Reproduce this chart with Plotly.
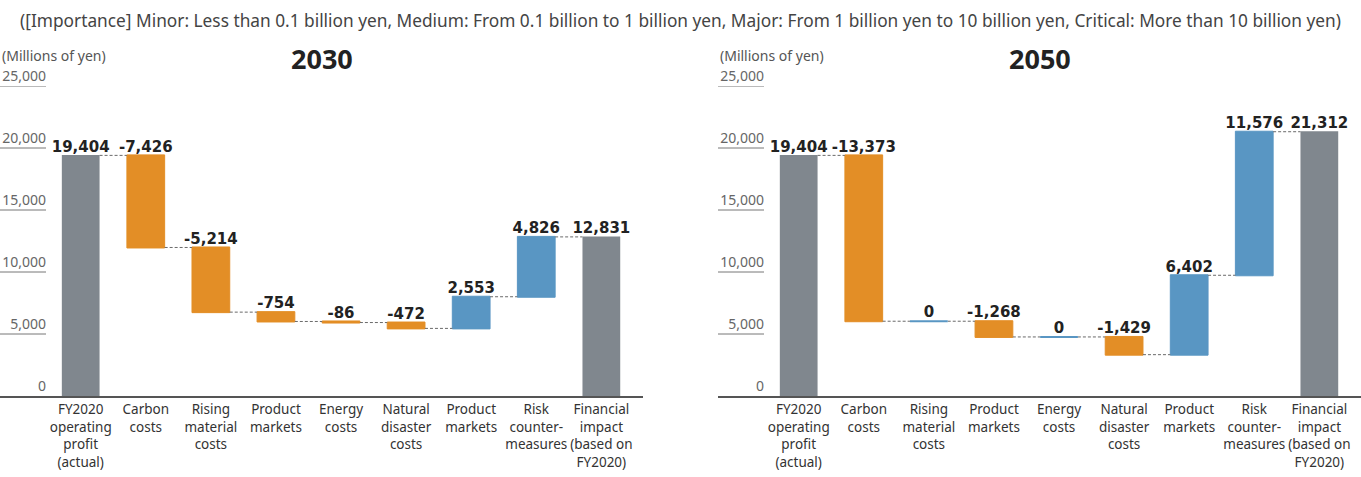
import numpy as np
import plotly.graph_objects as go

categories = ["FY2020<br>operating<br>profit<br>(actual)", "Carbon<br>costs", "Rising<br>material<br>costs",
              "Product<br>markets", "Energy<br>costs", "Natural<br>disaster<br>costs", "Product<br>markets",
              "Risk<br>counter-<br>measures", "Financial<br>impact<br>(based on<br>FY2020)"]
measures = ["absolute"] + ["relative"] * 7 + ["total"]
values_2030 = [19404, -7426, -5214, -754, -86, -472, 2553, 4826, 12831]
values_2050 = [19404, -13373, 0, -1268, 0, -1429, 6402, 11576, 21312]
y_ticks = [0, 5000, 10000, 15000, 20000, 25000]
y_tick_labels = ["0", "5,000", "10,000", "15,000", "20,000", "25,000"]
panel_titles = ["2030", "2050"]
note = ("([Importance] Minor: Less than 0.1 billion yen, Medium: From 0.1 billion to 1 billion yen, "
        "Major: From 1 billion yen to 10 billion yen, Critical: More than 10 billion yen)")
unit = "(Millions of yen)"

GREY = "#80878e"
ORANGE = "#e38e26"
BLUE = "#5996c3"
LABEL_FONT = "Noto Sans"
BAR_W = 0.58

def running_levels(vals, meas):
    """Return (bottom, top) of each bar."""
    bottoms, tops = [], []
    running = 0.0
    for v, m in zip(vals, meas):
        if m == "absolute":
            running = v
            bottoms.append(0); tops.append(v)
        elif m == "total":
            bottoms.append(0); tops.append(running)
        else:
            before = running
            running = running + v
            bottoms.append(min(before, running)); tops.append(max(before, running))
    return np.array(bottoms), np.array(tops)

def fmt(v):
    return f"{v:,}"

fig = go.Figure()
x_idx = list(range(len(categories)))
domains = [[0.0, 643 / 1361], [718 / 1361, 1.0]]
series = [values_2030, values_2050]
shapes = []

for k, vals in enumerate(series):
    xa = "x" if k == 0 else "x2"
    ya = "y" if k == 0 else "y2"
    fig.add_trace(go.Waterfall(
        x=x_idx, y=vals, measure=measures, xaxis=xa, yaxis=ya,
        width=BAR_W,
        increasing=dict(marker=dict(color=BLUE, line=dict(color=BLUE, width=1))),
        decreasing=dict(marker=dict(color=ORANGE, line=dict(color=ORANGE, width=1))),
        totals=dict(marker=dict(color=GREY, line=dict(color=GREY, width=0))),
        connector=dict(mode="between", line=dict(color="#6a6a6a", width=1, dash="3px,2px")),
        textinfo="none", hoverinfo="skip", showlegend=False,
    ))
    bottoms, tops = running_levels(vals, measures)
    # zero-valued changes are drawn as a thin blue line at the running level
    for i, (v, m) in enumerate(zip(vals, measures)):
        if m == "relative" and v == 0:
            shapes.append(dict(type="line", xref=xa, yref=ya, x0=i - BAR_W / 2, x1=i + BAR_W / 2,
                               y0=tops[i], y1=tops[i], line=dict(color=BLUE, width=2)))
    fig.add_trace(go.Scatter(
        x=x_idx, y=tops, mode="text", xaxis=xa, yaxis=ya,
        text=[fmt(v) for v in vals], textposition="top center",
        textfont=dict(family="DejaVu Sans", size=15, color="#222222", weight="bold"),
        cliponaxis=False, hoverinfo="skip", showlegend=False,
    ))

axis_common_x = dict(
    range=[-1.24, 8.64], tickmode="array", tickvals=x_idx, ticktext=categories, tickangle=0,
    showline=True, linecolor="#555555", linewidth=1.5, ticks="", showgrid=False, zeroline=False,
    tickfont=dict(family=LABEL_FONT, size=13.5, color="#333333"), fixedrange=True,
)
fig.update_layout(
    xaxis=dict(domain=domains[0], anchor="y", **axis_common_x),
    xaxis2=dict(domain=domains[1], anchor="y2", **axis_common_x),
)
for k in range(2):
    key = "yaxis" if k == 0 else "yaxis2"
    pos = domains[k][0] + 46 / 1361
    fig.layout[key] = dict(
        range=[0, 25000], domain=[0, 1], anchor="free", position=pos,
        tickmode="array", tickvals=y_ticks, ticktext=y_tick_labels,
        ticklabelposition="outside top", ticks="", showline=False, showgrid=False, zeroline=False,
        tickfont=dict(family=LABEL_FONT, size=14, color="#666666"), ticklabelstandoff=0,
    )

for k in range(2):
    xr = "x domain" if k == 0 else "x2 domain"
    yr = "y" if k == 0 else "y2"
    for t in y_ticks[1:]:
        shapes.append(dict(type="line", xref=xr, yref=yr, x0=0, x1=46 / 643, y0=t, y1=t,
                           line=dict(color="#777777", width=1)))

annotations = []
for k in range(2):
    d = domains[k]
    annotations.append(dict(text=f"<b>{panel_titles[k]}</b>", xref="paper", yref="paper",
                            x=(d[0] + d[1]) / 2, y=1.09, xanchor="center", yanchor="middle",
                            showarrow=False, font=dict(family="Noto Sans", size=27, color="#222222")))
    annotations.append(dict(text=unit, xref="paper", yref="paper", x=d[0], y=1.097,
                            xanchor="left", yanchor="middle", showarrow=False,
                            font=dict(family=LABEL_FONT, size=14, color="#555555")))

fig.update_layout(
    width=1361, height=477,
    margin=dict(l=0, r=0, t=86, b=81),
    paper_bgcolor="white", plot_bgcolor="white",
    title=dict(text=note, x=0.5, xanchor="center", y=1 - 21 / 477, yanchor="middle",
               font=dict(family="Noto Sans", size=17.3, color="#444444")),
    shapes=shapes, annotations=annotations,
)

fig.write_html("out.html")
